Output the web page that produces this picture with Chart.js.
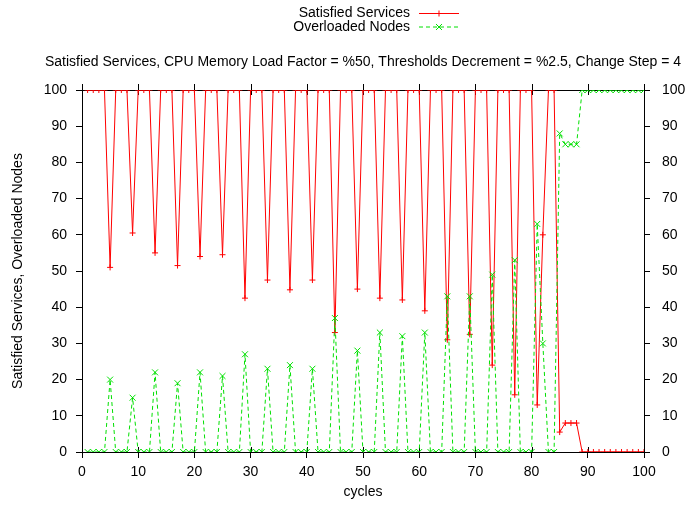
<!DOCTYPE html>
<html>
<head>
<meta charset="utf-8">
<script src="https://cdn.jsdelivr.net/npm/chart.js@4/dist/chart.umd.min.js"></script>
<style>
  html, body { margin: 0; padding: 0; background: #fff; }
  #c { display: block; }
</style>
</head>
<body>
<canvas id="c" width="686" height="505"></canvas>
<script>
// ---- Data ----
const chartTitle = 'Satisfied Services, CPU Memory Load Factor = %50, Thresholds Decrement = %2.5, Change Step = 4';
const xTitle = 'cycles';
const yTitle = 'Satisfied Services, Overloaded Nodes';
const seriesNames = ['Satisfied Services', 'Overloaded Nodes'];

const cycles = [
  1, 2, 3, 4, 5, 6, 7, 8, 9, 10,
  11, 12, 13, 14, 15, 16, 17, 18, 19, 20,
  21, 22, 23, 24, 25, 26, 27, 28, 29, 30,
  31, 32, 33, 34, 35, 36, 37, 38, 39, 40,
  41, 42, 43, 44, 45, 46, 47, 48, 49, 50,
  51, 52, 53, 54, 55, 56, 57, 58, 59, 60,
  61, 62, 63, 64, 65, 66, 67, 68, 69, 70,
  71, 72, 73, 74, 75, 76, 77, 78, 79, 80,
  81, 82, 83, 84, 85, 86, 87, 88, 89, 90,
  91, 92, 93, 94, 95, 96, 97, 98, 99, 100
];

const satisfiedServices = [
  100, 100, 100, 100, 51, 100, 100, 100, 60.5, 100,
  100, 100, 55, 100, 100, 100, 51.5, 100, 100, 100,
  54, 100, 100, 100, 54.5, 100, 100, 100, 42.5, 100,
  100, 100, 47.5, 100, 100, 100, 44.8, 100, 100, 100,
  47.5, 100, 100, 100, 33, 100, 100, 100, 45, 100,
  100, 100, 42.5, 100, 100, 100, 42, 100, 100, 100,
  39, 100, 100, 100, 31, 100, 100, 100, 32.5, 100,
  100, 100, 24, 100, 100, 100, 15.8, 100, 100, 100,
  13, 60, 100, 100, 5.5, 8, 8, 8, 0, 0,
  0, 0, 0, 0, 0, 0, 0, 0, 0, 0
];

const overloadedNodes = [
  0, 0, 0, 0, 20, 0, 0, 0, 15, 0,
  0, 0, 22, 0, 0, 0, 19, 0, 0, 0,
  22, 0, 0, 0, 21, 0, 0, 0, 27, 0,
  0, 0, 23, 0, 0, 0, 24, 0, 0, 0,
  23, 0, 0, 0, 37, 0, 0, 0, 28, 0,
  0, 0, 33, 0, 0, 0, 32, 0, 0, 0,
  33, 0, 0, 0, 43, 0, 0, 0, 43, 0,
  0, 0, 49, 0, 0, 0, 53, 0, 0, 0,
  63, 30, 0, 0, 88, 85, 85, 85, 100, 100,
  100, 100, 100, 100, 100, 100, 100, 100, 100, 100
];

// ---- Styles ----
const FONT = '"Liberation Sans", Arial, sans-serif';
const FSIZE = 14;
const RED = '#ff0000';
const GREEN = '#00e000';
const GREEN_DASH = [4, 3];

const toPoints = (ys) => cycles.map((c, i) => ({ x: c, y: ys[i] }));

// Border / extra ticks (top border, x ticks inward + top mirror)
const framePlugin = {
  id: 'frame',
  beforeDatasetsDraw(chart) {
    const { ctx, chartArea: { left, right, top, bottom }, scales: { x } } = chart;
    ctx.save();
    ctx.strokeStyle = '#000';
    ctx.lineWidth = 1;
    ctx.beginPath();
    ctx.moveTo(left, Math.round(top) + 0.5);
    ctx.lineTo(right + 1, Math.round(top) + 0.5);
    ctx.stroke();
    ctx.beginPath();
    x.ticks.forEach(t => {
      const px = Math.round(x.getPixelForValue(t.value)) + 0.5;
      ctx.moveTo(px, bottom);
      ctx.lineTo(px, bottom - 5);
      ctx.moveTo(px, top - 6);
      ctx.lineTo(px, top + 5);
    });
    ctx.stroke();
    ctx.restore();
  }
};

// gnuplot-style legend (text, then sample) + title centred over the plot
const textPlugin = {
  id: 'texts',
  afterDraw(chart) {
    const { ctx, chartArea: { left, right } } = chart;
    ctx.save();
    ctx.fillStyle = '#000';
    ctx.font = FSIZE + 'px ' + FONT;
    ctx.textBaseline = 'middle';
    ctx.textAlign = 'center';
    ctx.fillText(chartTitle, (left + right) / 2, 62);

    const rows = [
      { y: 13.5, color: RED, dash: [], style: 'cross', r: 3 },
      { y: 27, color: GREEN, dash: GREEN_DASH, style: 'crossRot', r: 4.2 }
    ];
    rows.forEach((row, i) => {
      ctx.textAlign = 'right';
      ctx.fillStyle = '#000';
      ctx.fillText(chart.data.datasets[i].label, 410, row.y);
      ctx.strokeStyle = row.color;
      ctx.lineWidth = 1;
      ctx.setLineDash(row.dash);
      ctx.beginPath();
      ctx.moveTo(419, row.y);
      ctx.lineTo(459, row.y);
      ctx.stroke();
      ctx.setLineDash([]);
      Chart.helpers.drawPoint(ctx, { pointStyle: row.style, radius: row.r, borderWidth: 1, rotation: 0 }, 439, row.y);
    });
    ctx.restore();
  }
};

new Chart(document.getElementById('c'), {
  type: 'line',
  data: {
    datasets: [
      {
        label: seriesNames[0],
        data: toPoints(satisfiedServices),
        borderColor: RED,
        backgroundColor: RED,
        borderWidth: 1,
        pointStyle: 'cross',
        pointRadius: 3,
        pointBorderWidth: 1,
        pointBorderColor: RED,
        fill: false,
        tension: 0,
        order: 1,
        yAxisID: 'y'
      },
      {
        label: seriesNames[1],
        data: toPoints(overloadedNodes),
        borderColor: GREEN,
        backgroundColor: GREEN,
        borderWidth: 1,
        borderDash: GREEN_DASH,
        pointStyle: 'crossRot',
        pointRadius: 4.2,
        pointBorderWidth: 1,
        pointBorderColor: GREEN,
        fill: false,
        tension: 0,
        order: 0,
        yAxisID: 'y'
      }
    ]
  },
  options: {
    responsive: false,
    animation: false,
    devicePixelRatio: 1,
    layout: { padding: { top: 90, left: 0, right: 0, bottom: 0 } },
    plugins: {
      legend: { display: false },
      title: { display: false },
      tooltip: { enabled: false }
    },
    scales: {
      x: {
        type: 'linear',
        min: 0,
        max: 100,
        border: { display: true, color: '#000', width: 1 },
        grid: { drawOnChartArea: false, drawTicks: true, tickLength: 6, color: '#000' },
        ticks: { stepSize: 10, maxRotation: 0, padding: 6, color: '#000', font: { family: FONT, size: FSIZE } },
        title: { display: true, text: xTitle, color: '#000', font: { family: FONT, size: FSIZE }, padding: { top: 0, bottom: 4 } },
        afterFit(scale) { scale.height = 53; }
      },
      y: {
        type: 'linear',
        position: 'left',
        min: 0,
        max: 100,
        border: { display: true, color: '#000', width: 1 },
        grid: { drawOnChartArea: false, drawTicks: true, tickLength: 6, color: '#000' },
        ticks: { stepSize: 10, padding: 9, color: '#000', font: { family: FONT, size: FSIZE } },
        title: { display: true, text: yTitle, color: '#000', font: { family: FONT, size: FSIZE }, padding: { top: 10, bottom: 0 } },
        afterFit(scale) { scale.width = 82; }
      },
      y2: {
        type: 'linear',
        position: 'right',
        min: 0,
        max: 100,
        border: { display: true, color: '#000', width: 1 },
        grid: { drawOnChartArea: false, drawTicks: true, tickLength: 6, color: '#000' },
        ticks: { stepSize: 10, padding: 12, color: '#000', font: { family: FONT, size: FSIZE } },
        afterFit(scale) { scale.width = 42; }
      }
    }
  },
  plugins: [framePlugin, textPlugin]
});
</script>
</body>
</html>
